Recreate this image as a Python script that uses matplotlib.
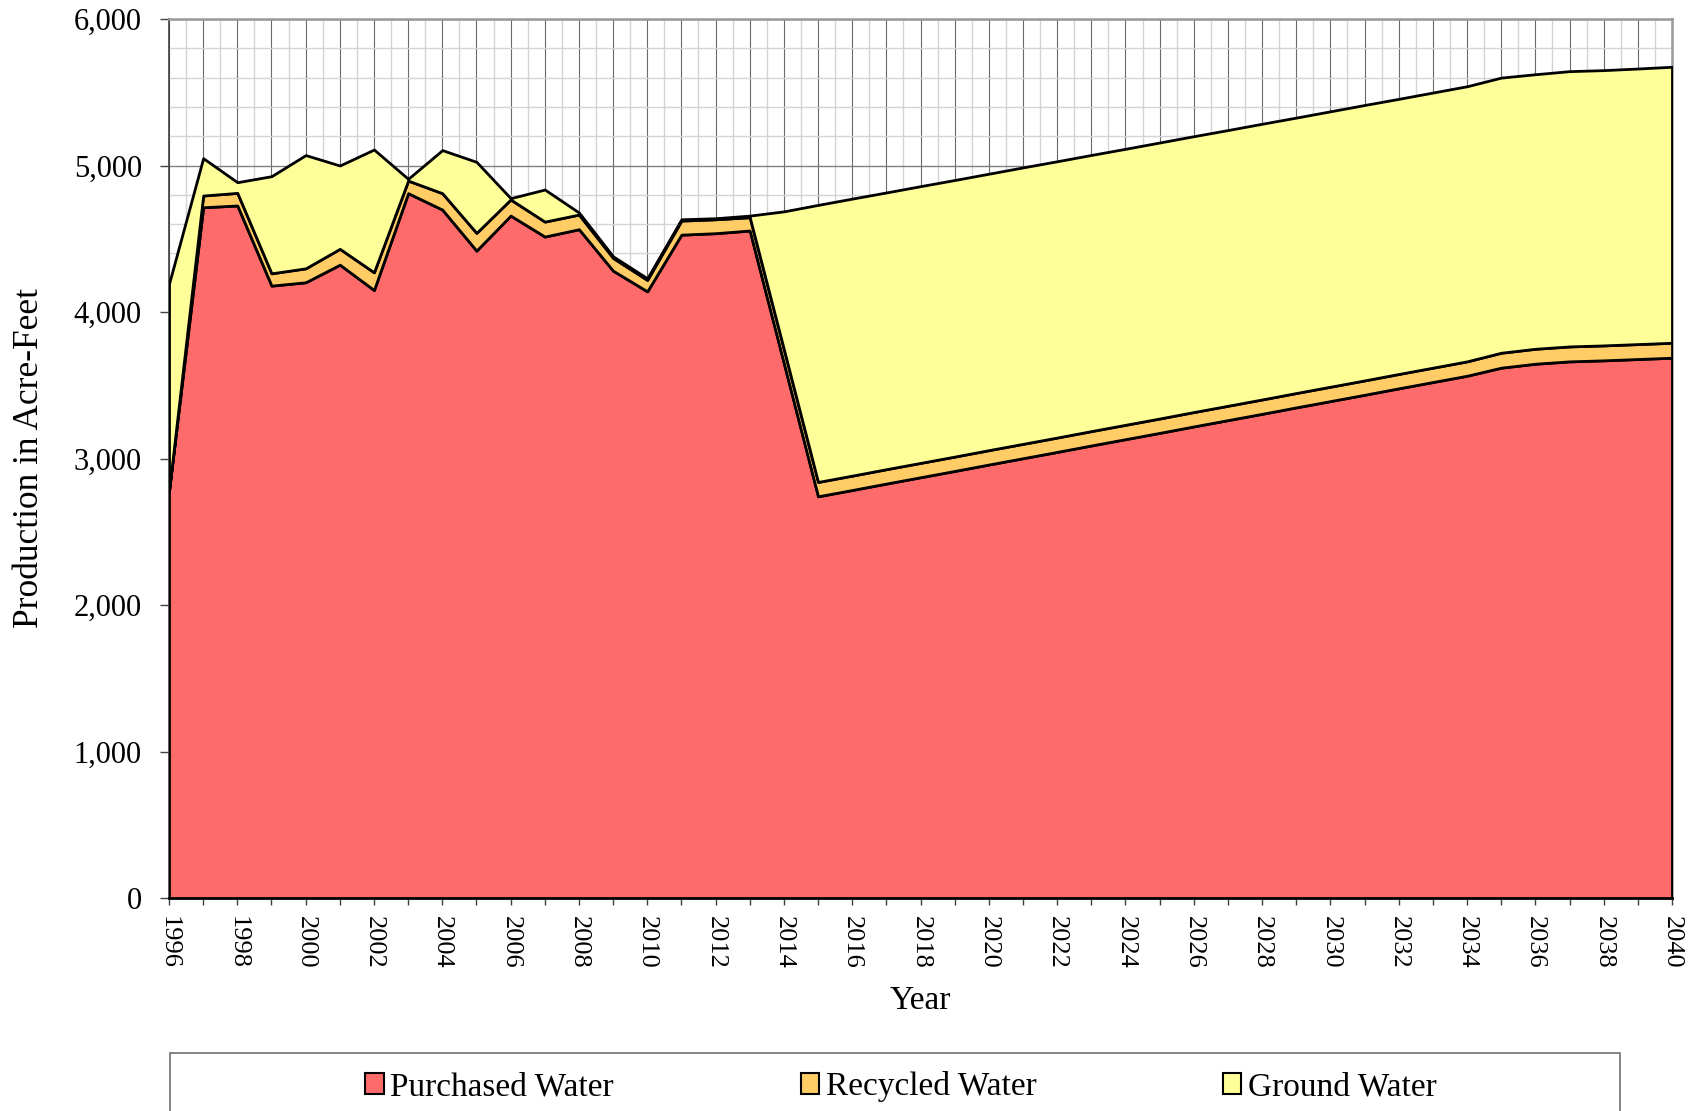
import matplotlib
matplotlib.use("Agg")
import matplotlib.pyplot as plt
from matplotlib.patches import Patch, Rectangle
from matplotlib.ticker import MultipleLocator, FuncFormatter

plt.rcParams['font.family'] = ['Liberation Serif', 'DejaVu Serif']

years = list(range(1996, 2041))

purchased = [2780, 4715, 4727, 4180, 4203, 4323, 4150, 4811, 4699, 4419,
             4658, 4515, 4565, 4282, 4141, 4528, 4538, 4556, 3650, 2742,
             2785, 2829, 2872, 2915, 2959, 3002, 3045, 3089, 3132, 3175,
             3219, 3262, 3305, 3349, 3392, 3435, 3479, 3522, 3565, 3620,
             3647, 3663, 3670, 3679, 3688]
recycled = [0, 80, 86, 84, 95, 108, 121, 86, 112, 121,
            110, 102, 100, 87, 78, 96, 95, 91, 95, 98,
            98, 98, 98, 98, 98, 98, 98, 98, 98, 98,
            98, 98, 98, 98, 98, 98, 98, 98, 98, 102,
            102, 102, 102, 102, 102]
ground = [1413, 255, 73, 663, 773, 569, 838, 12, 294, 485,
          9, 219, 14, 11, 11, 9, 7, 11, 942, 1891,
          1891, 1889, 1889, 1888, 1887, 1887, 1886, 1885, 1884, 1884,
          1883, 1882, 1882, 1880, 1880, 1880, 1878, 1878, 1878, 1878,
          1874, 1879, 1879, 1881, 1884]

labels = ['Purchased Water', 'Recycled Water', 'Ground Water']
colors = ['#ff6b6b', '#ffcc66', '#ffff99']

fig = plt.figure(figsize=(16.92, 11.11), dpi=100)
ax = fig.add_axes([169 / 1692, 1 - 898 / 1111, 1503 / 1692, 879 / 1111])

ax.stackplot(years, purchased, recycled, ground, colors=colors,
             edgecolor='black', linewidth=2.0, zorder=3)

ax.set_xlim(1996, 2040)
ax.set_ylim(0, 6000)

# grid
ax.set_axisbelow(True)
ax.xaxis.set_major_locator(MultipleLocator(1))
ax.xaxis.set_minor_locator(MultipleLocator(0.5))
ax.yaxis.set_major_locator(MultipleLocator(1000))
ax.yaxis.set_minor_locator(MultipleLocator(200))
ax.grid(which='minor', color='#d4d4d4', linewidth=1.0)
ax.grid(which='major', axis='x', color='#6a6a6a', linewidth=0.8)
ax.grid(which='major', axis='y', color='#808080', linewidth=1.0)

ax.xaxis.set_major_formatter(FuncFormatter(lambda v, p: str(int(v)) if int(v) % 2 == 0 else ''))
ax.yaxis.set_major_formatter(FuncFormatter(lambda v, p: f'{int(v):,}'))

ax.tick_params(axis='x', which='major', length=5, width=1, direction='out',
               labelsize=19, labelrotation=270, pad=8, color='#404040')
ax.tick_params(axis='y', which='major', length=6.5, width=1, direction='out',
               labelsize=22, pad=13, color='#404040')
ax.tick_params(which='minor', length=0)
for lab in ax.get_xticklabels():
    lab.set_va('top')
    lab.set_ha('center')

for side in ['top', 'right']:
    ax.spines[side].set_color('#999999')
    ax.spines[side].set_linewidth(1.8)
ax.spines['left'].set_color('#404040')
ax.spines['left'].set_linewidth(1.2)
ax.spines['bottom'].set_color('black')
ax.spines['bottom'].set_linewidth(2.0)

ax.set_ylabel('Production in Acre-Feet', fontsize=25.5, va='center', ha='center')
ax.yaxis.set_label_coords((30 - 169) / 1503, 0.5)
ax.set_xlabel('Year', fontsize=24, va='center', ha='center')
ax.xaxis.set_label_coords(0.5, (898 - 1001) / 879)

# legend box at the bottom
fig.patches.append(Rectangle((170 / 1692, -0.02), 1450 / 1692, 0.02 + 1 - 1053 / 1111,
                             transform=fig.transFigure, facecolor='white',
                             edgecolor='#707070', linewidth=1.2))
handles = [Patch(facecolor=c, edgecolor='black', linewidth=1.5) for c in colors]
fig.legend(handles, labels, loc='center', bbox_to_anchor=(901 / 1692, 1 - 1087 / 1111),
           ncol=3, frameon=False, fontsize=24, handlelength=0.55, handleheight=0.6,
           handletextpad=0.2, columnspacing=5.6)

fig.savefig('out.png', dpi=100)
